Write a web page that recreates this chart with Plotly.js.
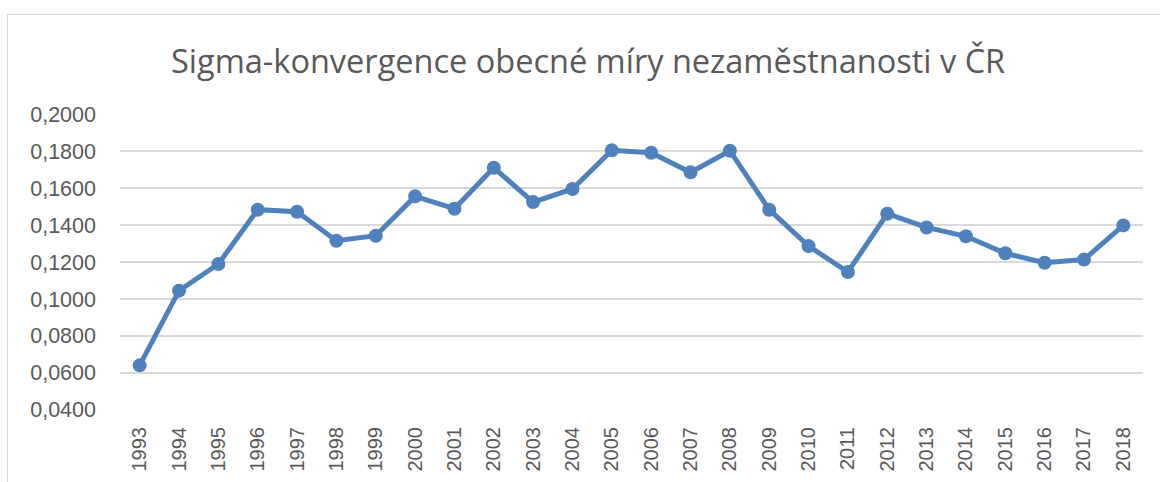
<!DOCTYPE html>
<html>
<head>
<meta charset="utf-8">
<script src="https://cdn.plot.ly/plotly-3.0.1.min.js"></script>
<style>
  html, body { margin: 0; padding: 0; background: #fff; }
  #wrap { position: relative; width: 1160px; height: 482px; }
  #chart { width: 1160px; height: 482px; }
  #frame { position: absolute; left: 7px; top: 14px; width: 1160px; height: 480px;
           border-left: 1.5px solid #d9d9d9; border-top: 1.5px solid #d9d9d9; pointer-events: none; }
</style>
</head>
<body>
<div id="wrap">
  <div id="chart"></div>
  <div id="frame"></div>
</div>
<script>
const years = ["1993","1994","1995","1996","1997","1998","1999","2000","2001","2002","2003","2004","2005",
               "2006","2007","2008","2009","2010","2011","2012","2013","2014","2015","2016","2017","2018"];
const sigma = [0.0641,0.1045,0.1189,0.1483,0.1472,0.1315,0.1342,0.1555,0.1488,0.1710,0.1524,0.1595,0.1804,
               0.1791,0.1685,0.1802,0.1483,0.1286,0.1146,0.1461,0.1387,0.1339,0.1247,0.1196,0.1213,0.1398];
const titleText = "Sigma-konvergence obecné míry nezaměstnanosti v ČR";

const trace = {
  x: years,
  y: sigma,
  type: "scatter",
  mode: "lines+markers",
  line: { color: "#4f81bd", width: 5 },
  marker: { color: "#4f81bd", size: 14 },
  hoverinfo: "x+y"
};

const layout = {
  width: 1160,
  height: 482,
  margin: { l: 120, r: 17, t: 114, b: 72 },
  paper_bgcolor: "#ffffff",
  plot_bgcolor: "#ffffff",
  separators: ", ",
  showlegend: false,
  title: {
    text: titleText,
    font: { family: "Open Sans, sans-serif", size: 32.5, color: "#595959" },
    xref: "container", x: 0.507, xanchor: "center",
    yref: "container", y: 0.872, yanchor: "middle"
  },
  xaxis: {
    type: "category",
    range: [-0.5, 25.5],
    tickangle: -90,
    showgrid: false,
    zeroline: false,
    showline: false,
    ticks: "",
    ticklabelstandoff: 12,
    tickfont: { family: "Liberation Sans, Arial, sans-serif", size: 20, color: "#595959" }
  },
  yaxis: {
    range: [0.03995, 0.20005],
    tick0: 0.04,
    dtick: 0.02,
    tickformat: ".4f",
    showgrid: true,
    gridcolor: "#d9d9d9",
    gridwidth: 1.3,
    zeroline: false,
    showline: false,
    ticks: "",
    ticklabelstandoff: 23,
    tickfont: { family: "Liberation Sans, Arial, sans-serif", size: 21.5, color: "#595959" }
  }
};

Plotly.newPlot("chart", [trace], layout, { displayModeBar: false, staticPlot: true });
</script>
</body>
</html>
